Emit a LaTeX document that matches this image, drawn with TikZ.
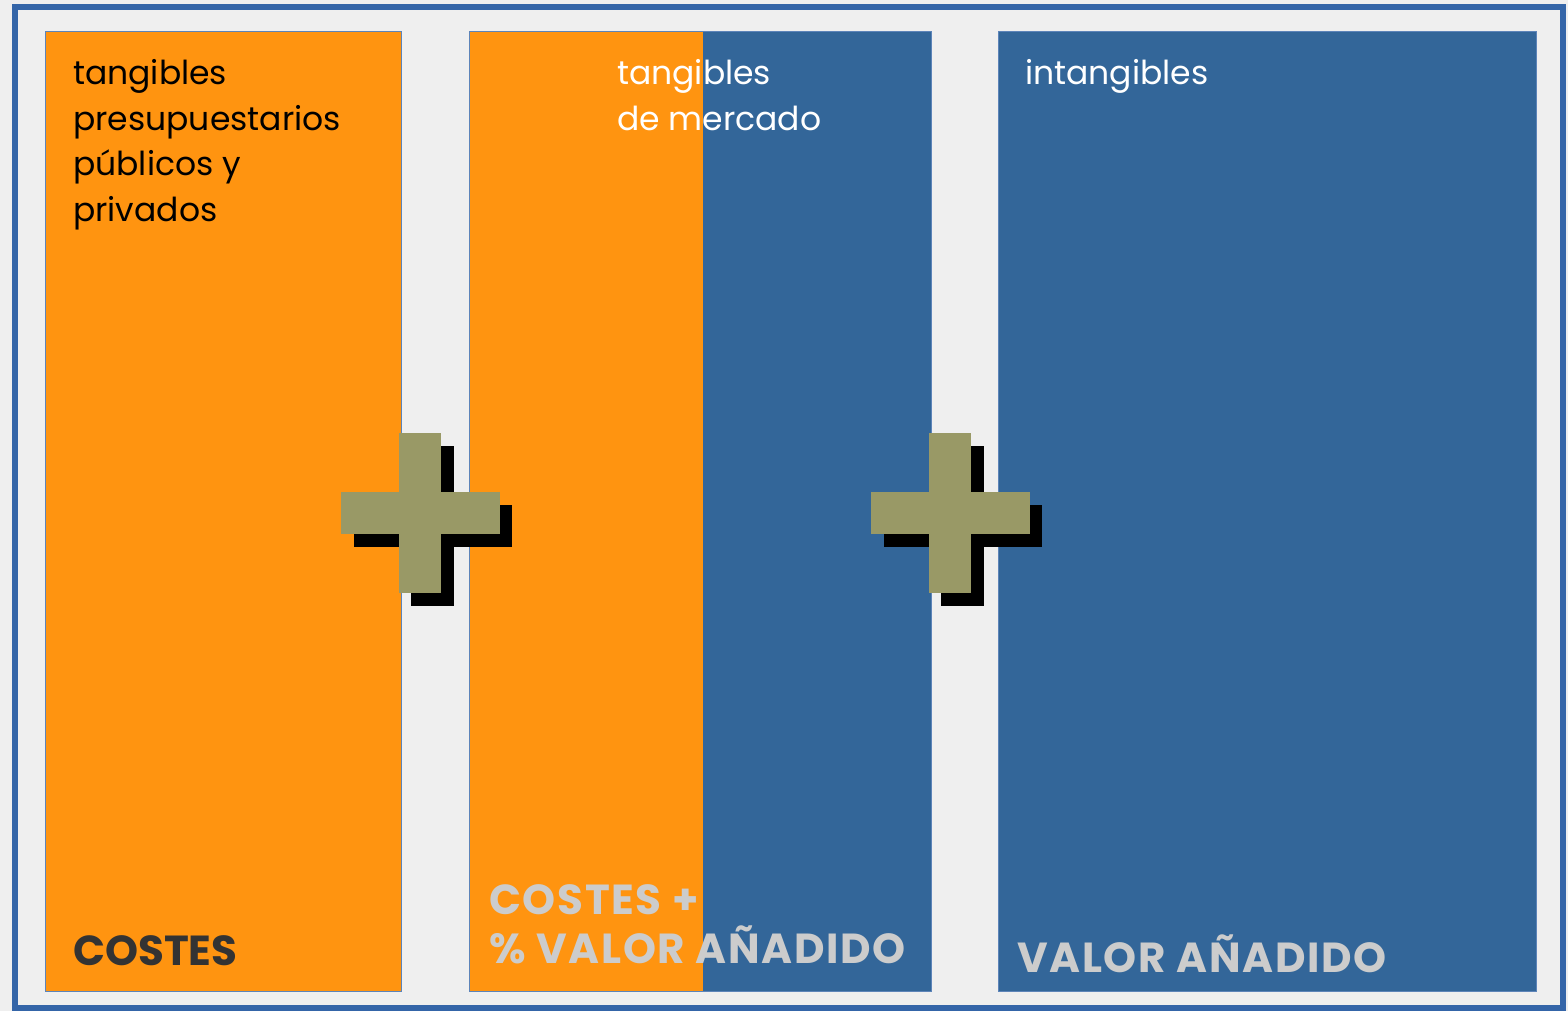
\documentclass[tikz,border=0pt]{standalone}
\usepackage{fontspec}
\setmainfont{Poppins}
\definecolor{PanelOrange}{HTML}{FF9410}
\definecolor{PanelBlue}{HTML}{336699}
\definecolor{FrameBlue}{HTML}{3465A8}
\definecolor{PlusOlive}{HTML}{999966}
\definecolor{LabelGrey}{HTML}{CCCCCC}
\definecolor{DarkInk}{HTML}{333333}
\definecolor{Paper}{HTML}{EFEFEF}

\begin{document}
\begin{tikzpicture}[x=1pt,y=-1pt,
  panel/.style={draw=FrameBlue!80,line width=0.8pt},
  plus/.style={fill=PlusOlive},
  shadow/.style={fill=black},
  thin/.style={font=\fontsize{33}{45.5}\selectfont,align=left,anchor=base west,inner sep=0pt},
  heavy/.style={font=\bfseries\fontsize{42}{49}\selectfont,align=left,anchor=base west,inner sep=0pt},
  spaced/.style={heavy,font=\bfseries\fontsize{42}{49}\selectfont\addfontfeature{LetterSpace=4},text=LabelGrey}
]
\useasboundingbox (0,0) rectangle (1568,1011);
\fill[Paper] (0,0) rectangle (1568,1011);
\draw[FrameBlue,line width=6pt] (15,7) rectangle (1563,1008);

\fill[PanelOrange] (45,31) rectangle (401,991);
\draw[panel] (45,31) rectangle (401,991);
\fill[PanelOrange] (469,31) rectangle (703,991);
\fill[PanelBlue] (703,31) rectangle (931,991);
\draw[panel] (469,31) rectangle (931,991);
\fill[PanelBlue] (998,31) rectangle (1536,991);
\draw[panel] (998,31) rectangle (1536,991);

\fill[shadow] (411,446) rectangle (454,606);
\fill[shadow] (354,505) rectangle (512,547);
\fill[plus] (399,433) rectangle (441,593);
\fill[plus] (341,492) rectangle (500,534);

\fill[shadow] (941,446) rectangle (984,606);
\fill[shadow] (884,505) rectangle (1042,547);
\fill[plus] (929,433) rectangle (971,593);
\fill[plus] (871,492) rectangle (1030,534);

\node[thin,text=black] (budget) at (73,221.5) {tangibles\\presupuestarios\\públicos y\\privados};
\node[thin,text=white] (market) at (617,130.5) {tangibles\\de mercado};
\node[thin,text=white] (intang) at (1025,85) {intangibles};
\node[heavy,text=DarkInk] (costs) at (73,965) {COSTES};
\node[spaced] (costsplus) at (489,963) {COSTES +\\\% VALOR AÑADIDO};
\node[spaced] (added) at (1017,972) {VALOR AÑADIDO};
\end{tikzpicture}
\end{document}
